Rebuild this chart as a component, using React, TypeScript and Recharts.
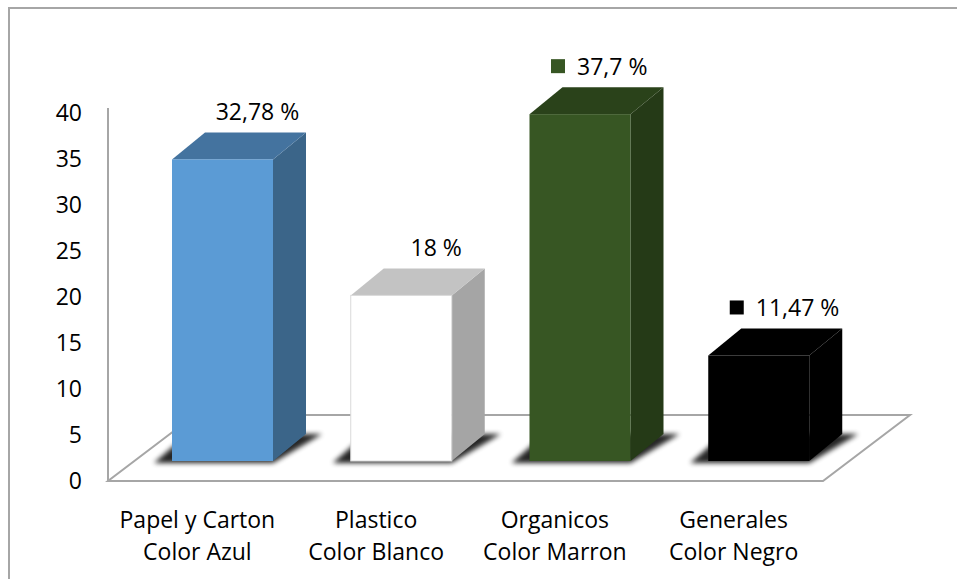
import { BarChart, Bar, XAxis, YAxis, ReferenceArea, LabelList } from 'recharts';

const categories = ['Papel y Carton', 'Plastico', 'Organicos', 'Generales'];
const subLabels = ['Color Azul', 'Color Blanco', 'Color Marron', 'Color Negro'];
const values = [32.78, 18, 37.7, 11.47];
const valueLabels = ['32,78 %', '18 %', '37,7 %', '11,47 %'];
const showKey = [false, false, true, true];
const yTicks = [0, 5, 10, 15, 20, 25, 30, 35, 40];

const FRONT = ['#5B9BD5', '#FFFFFF', '#375623', '#000000'];
const SIDE = ['#3B6589', '#A5A5A5', '#253A17', '#000000'];
const TOP = ['#44739F', '#C3C3C3', '#2A421A', '#000000'];

const FONT = '"Open Sans", "Noto Sans", sans-serif';
const FONT_SIZE = 23;

// fake 3D geometry
const DX = 33;
const DY = -27;
const SHIFT_X = 25;
const SHIFT_Y = -20;
const FLOOR_DX = 87;
const FLOOR_DY = -66;

const data = categories.map((name, i) => ({ name, value: values[i] }));

function Floor(props: any) {
  const { x, y, width, height } = props;
  const b = y + height;
  const r = x + width;
  const pts = `${x},${b} ${r},${b} ${r + FLOOR_DX},${b + FLOOR_DY} ${x + FLOOR_DX},${b + FLOOR_DY}`;
  return (
    <g>
      <defs>
        <filter id="shadowBlur" x="-20%" y="-50%" width="140%" height="200%">
          <feGaussianBlur stdDeviation="2.5" />
        </filter>
      </defs>
      <polygon points={pts} fill="#fff" stroke="#A6A6A6" strokeWidth={2} />
      <line x1={x} y1={y - 5} x2={x} y2={b} stroke="#A6A6A6" strokeWidth={2} />
    </g>
  );
}

function Bar3D(props: any) {
  const { x, y, width, height, index } = props;
  const fx = x + SHIFT_X;
  const fy = y + SHIFT_Y;
  const fb = fy + height;
  const fr = fx + width;
  const shadow = `${fx - 18},${fb + 2} ${fr},${fb + 2} ${fr + DX + 16},${fb + DY} ${fx + DX - 18},${fb + DY}`;
  const side = `${fr},${fy} ${fr + DX},${fy + DY} ${fr + DX},${fb + DY} ${fr},${fb}`;
  const top = `${fx},${fy} ${fx + DX},${fy + DY} ${fr + DX},${fy + DY} ${fr},${fy}`;
  return (
    <g>
      <polygon points={shadow} fill="#000" opacity={0.85} filter="url(#shadowBlur)" />
      <polygon points={side} fill={SIDE[index]} />
      <polygon points={top} fill={TOP[index]} />
      <rect
        x={fx}
        y={fy}
        width={width}
        height={height}
        fill={FRONT[index]}
        stroke={index === 1 ? '#D9D9D9' : 'none'}
        strokeWidth={1}
      />
    </g>
  );
}

function ValueLabel(props: any) {
  const x = Number(props.x);
  const y = Number(props.y);
  const width = Number(props.width);
  const index = props.index;
  const cx = x + width / 2 + SHIFT_X;
  const base = y + SHIFT_Y - 39;
  if (showKey[index]) {
    return (
      <g>
        <rect x={cx - 29} y={base - 16} width={14} height={14} fill={FRONT[index]} />
        <text x={cx - 3} y={base} textAnchor="start" fontFamily={FONT} fontSize={FONT_SIZE} fill="#000">
          {valueLabels[index]}
        </text>
      </g>
    );
  }
  return (
    <text x={cx + 35} y={base} textAnchor="middle" fontFamily={FONT} fontSize={FONT_SIZE} fill="#000">
      {valueLabels[index]}
    </text>
  );
}

function CategoryTick(props: any) {
  const { x, y, payload } = props;
  const i = payload.index ?? categories.indexOf(payload.value);
  return (
    <text x={x} y={y} textAnchor="middle" fontFamily={FONT} fontSize={FONT_SIZE} fill="#000">
      <tspan x={x} dy={47}>{categories[i]}</tspan>
      <tspan x={x} dy={32}>{subLabels[i]}</tspan>
    </text>
  );
}

export default function App() {
  return (
    <div style={{ position: 'absolute', left: 0, top: 0, width: 957, height: 579, background: '#fff' }}>
      <div
        style={{
          position: 'absolute',
          left: 8,
          top: 7,
          width: 947,
          height: 570,
          borderLeft: '2px solid #A6A6A6',
          borderTop: '2px solid #A6A6A6',
        }}
      />
      <div style={{ position: 'absolute', left: 0, top: 0 }}>
        <BarChart
          width={957}
          height={579}
          data={data}
          margin={{ top: 113, right: 134, bottom: 18, left: 0 }}
          barSize={101}
        >
          <ReferenceArea y1={0} y2={40} shape={Floor} ifOverflow="visible" />
          <XAxis
            dataKey="name"
            axisLine={false}
            tickLine={false}
            tickSize={0}
            tickMargin={0}
            height={80}
            interval={0}
            tick={<CategoryTick />}
          />
          <YAxis
            domain={[0, 40]}
            ticks={yTicks}
            width={108}
            axisLine={false}
            tickLine={false}
            tickSize={0}
            tickMargin={26}
            interval={0}
            tick={{ fontFamily: FONT, fontSize: FONT_SIZE, fill: '#000' }}
          />
          <Bar dataKey="value" shape={Bar3D} isAnimationActive={false}>
            <LabelList dataKey="value" content={ValueLabel} />
          </Bar>
        </BarChart>
      </div>
    </div>
  );
}
